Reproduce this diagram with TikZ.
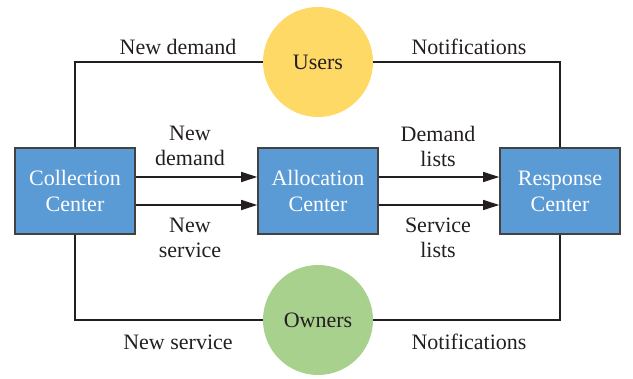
\documentclass[tikz,border=0pt]{standalone}
\usepackage{fontspec}
\setmainfont{Liberation Serif}
\usetikzlibrary{arrows.meta}
\definecolor{hubblue}{HTML}{5B9BD5}
\definecolor{useryellow}{HTML}{FFD966}
\definecolor{ownergreen}{HTML}{A9D18E}
\definecolor{ink}{HTML}{231F20}

\tikzset{
  hub/.style={draw=ink!85, line width=0.8pt, fill=hubblue, text=white,
    minimum width=60pt, minimum height=43pt, align=center, inner sep=0pt,
    font=\fontsize{11}{13}\selectfont},
  party/.style={circle, fill=#1, text=ink, minimum size=55pt, inner sep=0pt},
  link/.style={draw=ink, line width=0.8pt},
  flow/.style={link, -{Triangle[length=8pt,width=5pt]}},
  lbl/.style={text=ink, align=center, inner sep=0pt}
}

\begin{document}
\begin{tikzpicture}[x=0.5pt, y=-0.5pt, font=\fontsize{11}{12.5}\selectfont]
	\useasboundingbox (0,0) rectangle (633,379);
	% centres and parties
	\node[hub] (coll) at (75,191) {Collection\\Center};
	\node[hub] (alloc) at (318,191) {Allocation\\Center};
	\node[hub] (resp) at (560,191) {Response\\Center};
	\node[party=useryellow] (users) at (318,62) {Users};
	\node[party=ownergreen] (owners) at (318,320) {Owners};
	% outer loops
	\draw[link] (coll.north) |- (users.west);
	\draw[link] (users.east) -| (resp.north);
	\draw[link] (coll.south) |- (owners.west);
	\draw[link] (owners.east) -| (resp.south);
	% flows between the centres
	\draw[flow] ([yshift=7pt]coll.east) -- ([yshift=7pt]alloc.west);
	\draw[flow] ([yshift=-7pt]coll.east) -- ([yshift=-7pt]alloc.west);
	\draw[flow] ([yshift=7pt]alloc.east) -- ([yshift=7pt]resp.west);
	\draw[flow] ([yshift=-7pt]alloc.east) -- ([yshift=-7pt]resp.west);
	% labels
	\node[lbl] (l1) at (178,47) {New demand};
	\node[lbl] (l2) at (469,47) {Notifications};
	\node[lbl] (l3) at (190,146) {New\\demand};
	\node[lbl] (l4) at (190,238) {New\\service};
	\node[lbl] (l5) at (438,146) {Demand\\lists};
	\node[lbl] (l6) at (438,238) {Service\\lists};
	\node[lbl] (l7) at (178,342) {New service};
	\node[lbl] (l8) at (469,342) {Notifications};
\end{tikzpicture}
\end{document}
